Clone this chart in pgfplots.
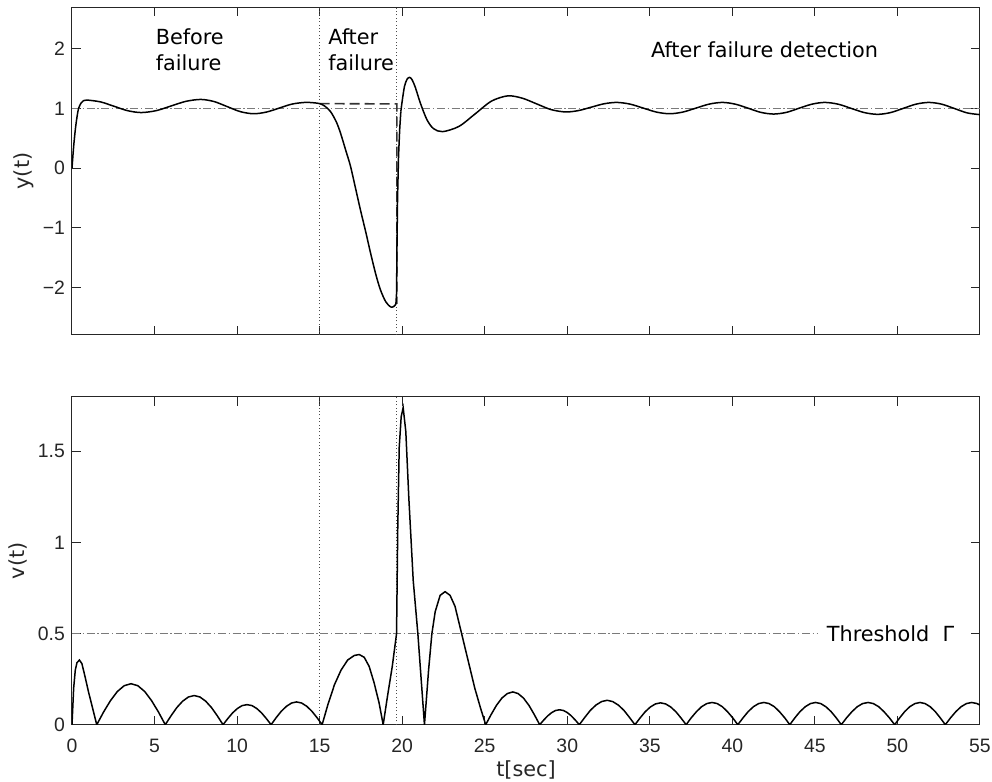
\documentclass[border=0pt]{standalone}
\usepackage{fontspec}
\setmainfont{DejaVu Sans}
\newfontfamily\tickfont{Liberation Sans}
\usepackage{pgfplots}
\pgfplotsset{compat=1.18}
\definecolor{axgray}{HTML}{262626}
\definecolor{refgray}{HTML}{7A7A7A}
\pgfplotsset{
  mlaxis/.style={
    width=454pt,height=164pt,scale only axis,
    xmin=0,xmax=55,xtick={0,5,...,55},
    axis line style={axgray,line width=0.5pt},
    tick style={axgray,line width=0.5pt},
    tick align=inside,major tick length=4.5pt,
    tick label style={font=\tickfont\fontsize{9.7}{11}\selectfont,color=axgray},
    xticklabel style={yshift=-3.5pt},
    /pgf/number format/assume math mode=true,
    label style={font=\fontsize{10.4}{12}\selectfont,color=axgray},
  },
  sig/.style={black,line width=0.75pt},
  refl/.style={refgray,line width=0.8pt,dash pattern=on 4pt off 1.3pt on 0.7pt off 1.3pt},
  est/.style={black!80,line width=0.8pt,dash pattern=on 5pt off 2.5pt},
  vmark/.style={black!70,line width=0.5pt,dash pattern=on 0.5pt off 1.2pt},
}
\begin{document}
\begin{tikzpicture}
% ---- upper panel: y(t)
\begin{axis}[mlaxis,at={(0,0)},anchor=north west,
  ymin=-2.8,ymax=2.7,ytick={-2,-1,0,1,2},yticklabels={−2,−1,0,1,2},
  xticklabels={},
  ylabel={y(t)},ylabel style={at={(axis description cs:-0.034,0.5)},anchor=south},
]
\addplot[vmark] coordinates {(15,-2.8)(15,2.7)};
\addplot[vmark] coordinates {(19.68,-2.8)(19.68,2.7)};
\addplot[refl] coordinates {(0,1)(55,1)};
\addplot[est] coordinates {(15.0,1.08)(19.68,1.075)(19.68,-2.28)};
\addplot[sig,smooth] coordinates {
(0,0)(0.1,0.36)(0.2,0.64)(0.3,0.85)(0.4,1.0)(0.55,1.09)(0.7,1.13)(0.9,1.14)
(1.725,1.109)(2.55,1.035)(3.375,0.961)(4.2,0.93)(5.1,0.962)(6.0,1.04)(6.9,1.118)(7.8,1.15)
(8.6,1.115)(9.4,1.03)(10.2,0.945)(11.0,0.91)(11.775,0.938)(12.55,1.005)(13.325,1.072)(14.1,1.10)
(14.6,1.095)(15.0,1.08)(15.3,1.04)(15.65,0.95)(16.0,0.78)(16.26,0.59)(16.6,0.28)(16.87,0.03)
(17.2,-0.37)(17.47,-0.70)(17.8,-1.08)(18.08,-1.42)(18.4,-1.78)(18.68,-2.04)(19.0,-2.24)
(19.3,-2.33)(19.5,-2.32)(19.62,-2.28)};
\addplot[sig] coordinates {
(19.62,-2.28)(19.66,-2.1)(19.69,-1.2)(19.72,-0.5)(19.78,0.2)(19.85,0.65)(19.92,0.95)};
\addplot[sig,smooth] coordinates {
(19.92,0.95)(20.0,1.12)(20.14,1.37)(20.3,1.49)(20.45,1.52)(20.6,1.48)(20.8,1.35)(21.1,1.09)
(21.5,0.81)(21.9,0.66)(22.45,0.61)(23.44,0.698)(24.43,0.91)(25.41,1.122)(26.4,1.21)
(27.275,1.171)(28.15,1.075)(29.025,0.979)(29.9,0.94)(30.675,0.963)(31.45,1.02)(32.225,1.077)
(33.0,1.10)(33.8,1.072)(34.6,1.005)(35.4,0.938)(36.2,0.91)(37.0,0.938)(37.8,1.005)(38.6,1.072)
(39.4,1.10)(40.175,1.071)(40.95,1.003)(41.725,0.933)(42.5,0.905)(43.275,0.933)(44.05,1.003)
(44.825,1.071)(45.6,1.10)(46.4,1.071)(47.2,1.0)(48.0,0.929)(48.8,0.90)(49.575,0.929)(50.35,1.0)
(51.125,1.071)(51.9,1.10)(52.675,1.071)(53.45,0.998)(54.225,0.924)(55,0.895)};
\node[anchor=west,align=left,inner sep=0pt,font=\fontsize{10.4}{13}\selectfont]
  at (axis cs:5.05,1.98) {Before\\failure};
\node[anchor=west,align=left,inner sep=0pt,font=\fontsize{10.4}{13}\selectfont]
  at (axis cs:15.5,1.98) {After\\failure};
\node[anchor=west,inner sep=0pt,font=\fontsize{10.4}{13}\selectfont]
  at (axis cs:35.05,1.98) {After failure detection};
\end{axis}
% ---- lower panel: v(t)
\begin{axis}[mlaxis,at={(0,-194.85pt)},anchor=north west,
  ymin=0,ymax=1.8,ytick={0,0.5,1,1.5},
  xlabel={t[sec]},xlabel style={at={(axis description cs:0.5,-0.139)},anchor=center},
  ylabel={v(t)},ylabel style={at={(axis description cs:-0.042,0.5)},anchor=south},
]
\addplot[vmark] coordinates {(15,0)(15,1.8)};
\addplot[vmark] coordinates {(19.68,0)(19.68,1.8)};
\addplot[refl] coordinates {(0,0.5)(45.2,0.5)};
\addplot[sig] coordinates {
(0,0)(0.1,0.2)(0.2,0.3)(0.3,0.34)(0.45,0.355)(0.6,0.335)(0.8,0.26)(1.0,0.18)(1.25,0.09)(1.5,0)
(1.915,0.070)(2.33,0.132)(2.745,0.182)(3.16,0.214)(3.575,0.225)(3.99,0.214)(4.405,0.182)(4.82,0.132)(5.235,0.070)(5.65,0)
(6.0,0.049)(6.35,0.094)(6.7,0.129)(7.05,0.152)(7.4,0.16)(7.75,0.152)(8.1,0.129)(8.45,0.094)(8.8,0.049)(9.15,0)
(9.44,0.034)(9.73,0.065)(10.02,0.089)(10.31,0.105)(10.6,0.11)(10.9,0.105)(11.19,0.089)(11.48,0.065)(11.77,0.034)(12.06,0)
(12.37,0.039)(12.68,0.074)(12.99,0.101)(13.3,0.119)(13.6,0.125)(13.91,0.119)(14.22,0.101)(14.53,0.074)(14.84,0.039)(15.15,0)
(15.5,0.11)(15.9,0.22)(16.3,0.30)(16.7,0.355)(17.1,0.38)(17.4,0.385)(17.7,0.37)(18.0,0.32)(18.3,0.23)(18.6,0.12)(18.85,0)
(19.1,0.15)(19.4,0.32)(19.66,0.5)
(19.73,1.066)(19.82,1.52)(19.94,1.69)(20.06,1.74)(20.22,1.61)(20.4,1.25)(20.67,0.79)(20.95,0.5)(21.35,0)
(21.6,0.3)(21.8,0.5)(22.0,0.62)(22.3,0.71)(22.6,0.73)(22.9,0.71)(23.2,0.65)(23.6,0.5)(24.0,0.35)(24.4,0.2)(24.75,0.09)(25.06,0)
(25.39,0.056)(25.71,0.106)(26.04,0.146)(26.37,0.171)(26.7,0.18)(27.02,0.171)(27.35,0.146)(27.68,0.106)(28.0,0.056)(28.33,0)
(28.57,0.025)(28.81,0.048)(29.05,0.066)(29.29,0.078)(29.53,0.082)(29.77,0.078)(30.01,0.066)(30.25,0.048)(30.49,0.025)(30.73,0)
(31.07,0.041)(31.40,0.079)(31.74,0.108)(32.08,0.127)(32.42,0.134)(32.75,0.127)(33.09,0.108)(33.43,0.079)(33.76,0.041)(34.1,0)
(34.41,0.037)(34.72,0.071)(35.03,0.097)(35.34,0.114)(35.65,0.12)(35.96,0.114)(36.27,0.097)(36.58,0.071)(36.89,0.037)(37.2,0)
(37.51,0.038)(37.83,0.072)(38.14,0.099)(38.45,0.116)(38.77,0.122)(39.08,0.116)(39.39,0.099)(39.7,0.072)(40.02,0.038)(40.33,0)
(40.65,0.038)(40.96,0.072)(41.28,0.099)(41.59,0.116)(41.91,0.122)(42.22,0.116)(42.54,0.099)(42.85,0.072)(43.17,0.038)(43.48,0)
(43.79,0.038)(44.1,0.072)(44.42,0.099)(44.73,0.116)(45.04,0.122)(45.35,0.116)(45.66,0.099)(45.98,0.072)(46.29,0.038)(46.6,0)
(46.92,0.038)(47.25,0.072)(47.57,0.099)(47.89,0.116)(48.22,0.122)(48.54,0.116)(48.86,0.099)(49.18,0.072)(49.51,0.038)(49.83,0)
(50.14,0.038)(50.44,0.072)(50.75,0.099)(51.06,0.116)(51.37,0.122)(51.67,0.116)(51.98,0.099)(52.29,0.072)(52.59,0.038)(52.9,0)
(53.22,0.038)(53.54,0.072)(53.86,0.099)(54.18,0.116)(54.5,0.122)(54.82,0.116)(55.0,0.108)};
\node[anchor=west,inner sep=0pt,font=\fontsize{10.4}{13}\selectfont]
  at (axis cs:45.7,0.5) {Threshold\ \ Γ};
\end{axis}
\pgfresetboundingbox
\path[use as bounding box] (-36pt,3.5pt) rectangle (460pt,-387.5pt);
\end{tikzpicture}
\end{document}
